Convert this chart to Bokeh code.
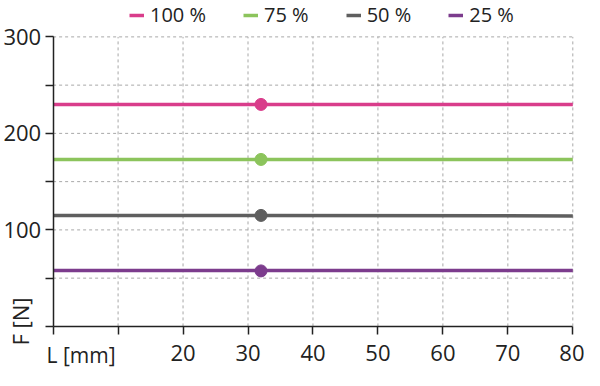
import math
from bokeh.plotting import figure
from bokeh.models import Legend, LegendItem, Label, FixedTicker, Range1d, LinearAxis
from bokeh.embed import file_html
from bokeh.resources import INLINE

FONT = "Open Sans"
INK = "#222222"

series_names = ["100 %", "75 %", "50 %", "25 %"]
series_colors = ["#d93d8b", "#8cc45c", "#5f5f5f", "#7c3c8d"]
x_line = [0, 80]
y_100 = [230, 230]
y_75 = [173, 173]
y_50 = [115, 114.5]
y_25 = [58, 58]
marker_x = [32]
marker_y = [230, 173, 115, 57.5]

x_ticks = [0, 10, 20, 30, 40, 50, 60, 70, 80]
x_tick_labels = ["", "", "20", "30", "40", "50", "60", "70", "80"]
y_ticks = [0, 50, 100, 150, 200, 250, 300]
y_tick_labels = ["", "", "100", "", "200", "", "300"]
x_title = "L [mm]"
y_title = "F [N]"

# the frame covers the whole figure; axes are pinned at x=0 / y=0
p = figure(width=584, height=370, output_backend="svg", toolbar_location=None,
           x_axis_type=None, y_axis_type=None,
           x_range=Range1d(-8.1, 81.8), y_range=Range1d(-45.7, 337.7),
           min_border_left=0, min_border_right=0, min_border_top=0, min_border_bottom=0)
p.outline_line_color = None
p.xgrid.visible = False
p.ygrid.visible = False

# grid lines from the tick lists
xmax, ymax = x_ticks[-1], y_ticks[-1]
p.segment(x0=x_ticks[1:], y0=[0] * (len(x_ticks) - 1), x1=x_ticks[1:], y1=[ymax] * (len(x_ticks) - 1),
          line_color="#a8a8a8", line_dash="3 3", line_width=1)
p.segment(x0=[0] * (len(y_ticks) - 1), y0=y_ticks[1:], x1=[xmax] * (len(y_ticks) - 1), y1=y_ticks[1:],
          line_color="#a8a8a8", line_dash="3 3", line_width=1)

xax = LinearAxis(fixed_location=0, bounds=(0, xmax))
yax = LinearAxis(fixed_location=0, bounds=(0, ymax))
for ax, ticks, labels in ((xax, x_ticks, x_tick_labels), (yax, y_ticks, y_tick_labels)):
    ax.ticker = FixedTicker(ticks=ticks)
    ax.major_label_overrides = {t: l for t, l in zip(ticks, labels)}
    ax.minor_tick_line_color = None
    ax.major_tick_out = 8
    ax.major_tick_in = 0
    ax.axis_line_color = INK
    ax.axis_line_width = 1.5
    ax.major_tick_line_color = INK
    ax.major_tick_line_width = 1.5
    ax.major_label_text_font = FONT
    ax.major_label_text_font_size = "22px"
    ax.major_label_text_color = INK
xax.major_label_standoff = 11
yax.major_label_standoff = 4
p.add_layout(xax, "below")
p.add_layout(yax, "left")

ys = [y_100, y_75, y_50, y_25]
items = []
for name, color, yv, my in zip(series_names, series_colors, ys, marker_y):
    r = p.line(x_line, yv, line_color=color, line_width=3.5)
    p.scatter(marker_x, [my], size=12, fill_color=color, line_color=color)
    items.append(LegendItem(label=name, renderers=[r]))

legend = Legend(items=items, orientation="horizontal", location=(129, 342),
                glyph_width=15, glyph_height=20, label_standoff=6, spacing=37,
                padding=0, margin=0, border_line_color=None, background_fill_alpha=0,
                label_text_font=FONT, label_text_font_size="20px", label_text_color=INK)
p.add_layout(legend, "center")

p.add_layout(Label(x=-5.1, y=5, text=y_title, angle=math.pi / 2,
                   text_align="center", text_baseline="middle",
                   text_font=FONT, text_font_size="22px", text_color=INK))
p.add_layout(Label(x=4.3, y=-29.5, text=x_title, text_align="center", text_baseline="middle",
                   text_font=FONT, text_font_size="21px", text_color=INK))

open("out.html", "w").write(file_html(p, INLINE))
